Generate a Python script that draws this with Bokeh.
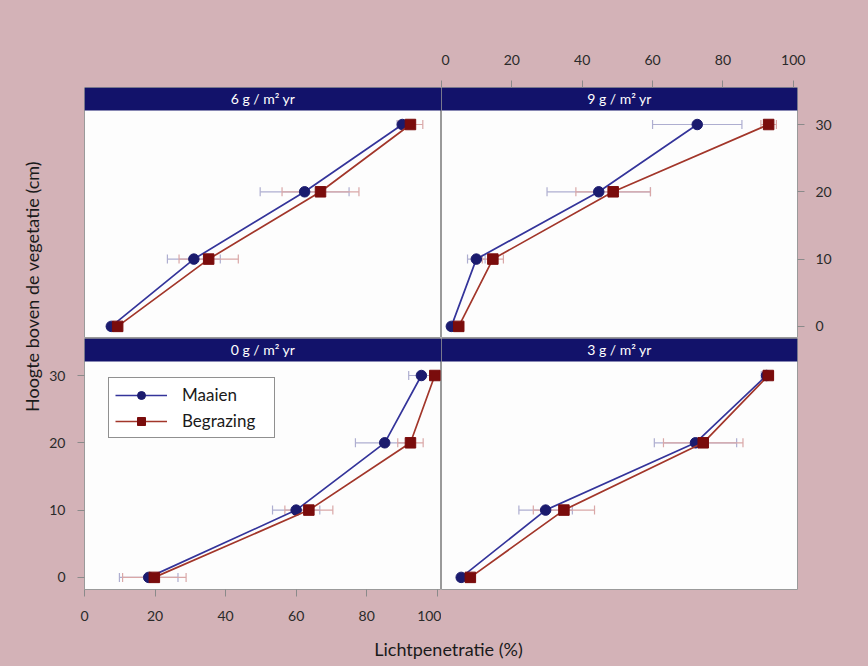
import math
from bokeh.plotting import figure
from bokeh.models import (Range1d, LinearAxis, FixedTicker, BoxAnnotation, Label,
                          Whisker, TeeHead, ColumnDataSource, Legend, LegendItem)
from bokeh.layouts import row, column
from bokeh.embed import file_html
from bokeh.resources import INLINE

# ---------------- data ----------------
heights = [0, 10, 20, 30]
panel_titles = ["6 g / m\u00b2 yr", "9 g / m\u00b2 yr", "0 g / m\u00b2 yr", "3 g / m\u00b2 yr"]
series_names = ["Maaien", "Begrazing"]

maaien_6 = [7.6, 31.0, 62.4, 90.1]
maaien_6_err = [1.0, 7.5, 12.6, 1.5]
begrazing_6 = [9.4, 35.2, 66.9, 92.4]
begrazing_6_err = [1.0, 8.4, 10.9, 3.5]

maaien_9 = [2.8, 9.9, 44.7, 72.7]
maaien_9_err = [1.0, 2.5, 14.7, 12.7]
begrazing_9 = [4.9, 14.6, 48.8, 93.0]
begrazing_9_err = [1.0, 3.0, 10.6, 2.2]

maaien_0 = [18.2, 60.0, 85.1, 95.5]
maaien_0_err = [8.3, 6.7, 8.3, 3.6]
begrazing_0 = [19.8, 63.6, 92.4, 99.3]
begrazing_0_err = [9.0, 6.8, 3.6, 0.6]

maaien_3 = [5.6, 29.6, 72.2, 92.4]
maaien_3_err = [1.0, 7.6, 11.7, 1.5]
begrazing_3 = [8.2, 34.8, 74.4, 92.9]
begrazing_3_err = [1.2, 8.7, 11.3, 1.5]

x_ticks = [0, 20, 40, 60, 80, 100]
y_ticks = [0, 10, 20, 30]

# ---------------- style ----------------
PINK = "#d3b2b7"
NAVY = "#12126a"
M_FILL = "#1b1b6e"
M_LINE = "#34349a"
M_ERR = "#aeaed0"
B_FILL = "#7a0c0c"
B_LINE = "#a2362a"
B_ERR = "#d9a7a7"
FONT = "Lato"

X0, X1 = 0, 101.2
Y0, YSTRIP, Y1 = -1.8, 32.1, 35.5


def make_panel(w, h, title, m, me, b, be, borders):
    left, right, top, bottom = borders
    p = figure(width=w, height=h, output_backend="svg", toolbar_location=None,
               x_range=Range1d(X0, X1), y_range=Range1d(Y0, Y1),
               x_axis_location=None, y_axis_location=None,
               min_border_left=left, min_border_right=right,
               min_border_top=top, min_border_bottom=bottom)
    p.background_fill_color = "#fdfdfd"
    p.border_fill_color = PINK
    p.outline_line_color = "#9a9a9a"
    p.outline_line_width = 1
    p.grid.visible = False

    p.add_layout(BoxAnnotation(bottom=YSTRIP, fill_color=NAVY, fill_alpha=1.0,
                               line_color=None, level="underlay"))
    p.add_layout(Label(x=(X0 + X1) / 2, y=(YSTRIP + Y1) / 2, text=title,
                       text_align="center", text_baseline="middle",
                       text_color="white", text_font=FONT, text_font_size="14px"))

    ms = ColumnDataSource(dict(x=m, y=heights, lo=[v - e for v, e in zip(m, me)],
                               hi=[v + e for v, e in zip(m, me)]))
    bs = ColumnDataSource(dict(x=b, y=heights, lo=[v - e for v, e in zip(b, be)],
                               hi=[v + e for v, e in zip(b, be)]))
    for src, col in ((ms, M_ERR), (bs, B_ERR)):
        p.add_layout(Whisker(source=src, base="y", lower="lo", upper="hi",
                             dimension="width", line_color=col, line_width=1.2,
                             upper_head=TeeHead(size=9, line_color=col, line_width=1.2),
                             lower_head=TeeHead(size=9, line_color=col, line_width=1.2)))
    lm = p.line("x", "y", source=ms, line_color=M_LINE, line_width=1.7)
    sm = p.scatter("x", "y", source=ms, marker="circle", size=10.5,
                   fill_color=M_FILL, line_color=M_FILL)
    lb = p.line("x", "y", source=bs, line_color=B_LINE, line_width=1.7)
    sb = p.scatter("x", "y", source=bs, marker="square", size=10.5,
                   fill_color=B_FILL, line_color=B_FILL)
    return p, (lm, sm), (lb, sb)


def style_axis(ax, ticks, standoff):
    ax.ticker = FixedTicker(ticks=ticks)
    ax.axis_line_color = None
    ax.major_tick_line_color = "#8a8a8a"
    ax.major_tick_out = 7
    ax.major_tick_in = 0
    ax.minor_tick_line_color = None
    ax.major_label_text_font = FONT
    ax.major_label_text_font_size = "14px"
    ax.major_label_text_color = "#2a2a2a"
    ax.major_label_standoff = standoff


tl, _, _ = make_panel(397, 338, panel_titles[0], maaien_6, maaien_6_err,
                      begrazing_6, begrazing_6_err, (40, 0, 87, 0))
tr, _, _ = make_panel(427, 338, panel_titles[1], maaien_9, maaien_9_err,
                      begrazing_9, begrazing_9_err, (0, 71, 87, 0))
bl, m_r, b_r = make_panel(397, 292, panel_titles[2], maaien_0, maaien_0_err,
                          begrazing_0, begrazing_0_err, (40, 0, 0, 41))
br, _, _ = make_panel(427, 292, panel_titles[3], maaien_3, maaien_3_err,
                      begrazing_3, begrazing_3_err, (0, 71, 0, 41))

ax = LinearAxis(); style_axis(ax, x_ticks, 16); tr.add_layout(ax, "above")
ax = LinearAxis(); style_axis(ax, y_ticks, 11); tr.add_layout(ax, "right")
ax = LinearAxis(); style_axis(ax, x_ticks, 14); bl.add_layout(ax, "below")
ax = LinearAxis(); style_axis(ax, y_ticks, 12); bl.add_layout(ax, "left")

legend = Legend(items=[LegendItem(label=series_names[0], renderers=list(m_r)),
                       LegendItem(label=series_names[1], renderers=list(b_r))],
                location=(24, 151), margin=0, padding=6, spacing=5,
                glyph_width=52, glyph_height=20, label_standoff=15,
                label_width=86,
                label_text_font=FONT, label_text_font_size="17px",
                label_text_color="#1a1a1a",
                border_line_color="#222222", border_line_width=1.3,
                background_fill_color="white", background_fill_alpha=1.0)
bl.add_layout(legend)


def blank(w, h):
    f = figure(width=w, height=h, output_backend="svg", toolbar_location=None,
               x_range=Range1d(0, 1), y_range=Range1d(0, 1),
               x_axis_location=None, y_axis_location=None,
               min_border=0, min_border_left=0, min_border_right=0,
               min_border_top=0, min_border_bottom=0)
    f.background_fill_color = PINK
    f.border_fill_color = PINK
    f.outline_line_color = None
    f.grid.visible = False
    return f


ylab = blank(44, 666)
ylab.add_layout(Label(x=31 / 44, y=(666 - 286) / 666, text="Hoogte boven de vegetatie (cm)",
                      angle=math.pi / 2, text_align="center", text_baseline="middle",
                      text_font=FONT, text_font_size="18px", text_color="#1a1a1a"))
xlab = blank(824, 36)
xlab.add_layout(Label(x=404 / 824, y=0.5, text="Lichtpenetratie (%)",
                      text_align="center", text_baseline="middle",
                      text_font=FONT, text_font_size="18px", text_color="#1a1a1a"))

layout = row(ylab, column(row(tl, tr), row(bl, br), xlab))
layout.styles = {"background-color": PINK}

open("out.html", "w").write(file_html(layout, INLINE))
